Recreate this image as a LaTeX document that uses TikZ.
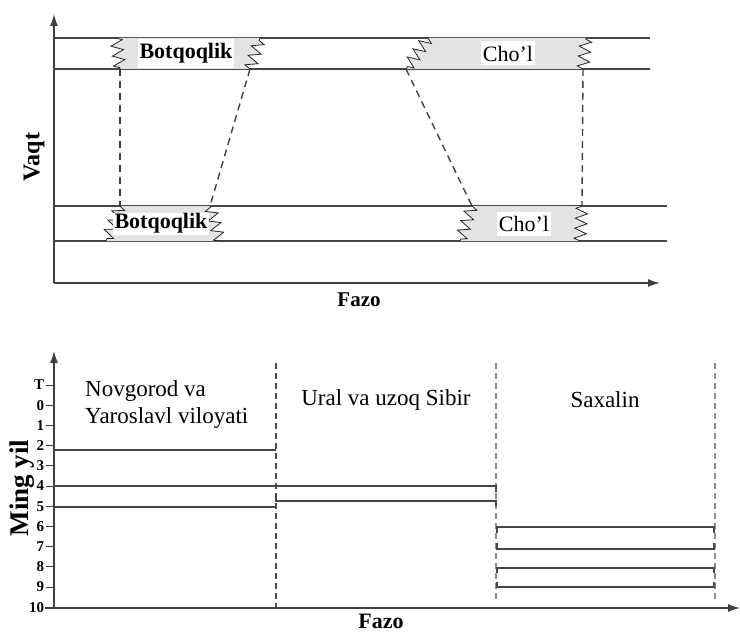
\documentclass[tikz,border=0pt]{standalone}
\usepackage{fontspec}
\setmainfont{Liberation Serif}
\usetikzlibrary{arrows.meta,decorations.pathmorphing}

\newcommand{\zigpatch}[7]{%
  \coordinate (#1tl) at (#4,#2);
  \coordinate (#1bl) at (#5,#3);
  \coordinate (#1tr) at (#6,#2);
  \coordinate (#1br) at (#7,#3);
  \fill[stipple] (#1tl) decorate[zig]{-- (#1bl)} -- (#1br) decorate[zig]{-- (#1tr)} -- cycle;
  \draw[zigline] (#1tl) decorate[zig]{-- (#1bl)};
  \draw[zigline] (#1br) decorate[zig]{-- (#1tr)};
}

\begin{document}
\begin{tikzpicture}[
    x=1pt, y=-1pt,
    axisline/.style={draw=black!75, line width=1.3pt},
    axisarrow/.style={axisline, -{Latex[length=12pt,width=8pt]}},
    band/.style={draw=black!72, line width=1.2pt},
    stipple/.style={fill=black!11},
    zig/.style={decoration={zigzag, segment length=10pt, amplitude=6pt}},
    zigline/.style={draw=black!85, line width=0.8pt},
    link/.style={draw=black!75, line width=1.4pt, dash pattern=on 7pt off 5pt},
    sep/.style={draw=black!70, line width=1.4pt, dash pattern=on 6pt off 4pt},
    tag/.style={fill=white, inner xsep=2pt, inner ysep=0pt, font=\fontsize{22}{24}\selectfont},
    region/.style={fill=white, inner sep=3pt, font=\fontsize{23}{27}\selectfont},
    tick/.style={font=\bfseries\fontsize{15}{15}\selectfont, inner sep=1.5pt},
    axislabel/.style={font=\bfseries\fontsize{22}{24}\selectfont},
  ]
  \useasboundingbox (0,0) rectangle (740,634);

  % upper panel: bands
  \draw[band] (54,38) -- (650,38);
  \draw[band] (54,69) -- (650,69);
  \draw[band] (54,206) -- (667,206);
  \draw[band] (54,241) -- (667,241);

  \zigpatch{ba}{38}{69}{116}{120}{260}{250}
  \zigpatch{bb}{206}{241}{120}{106}{210}{220}
  \zigpatch{ca}{38}{69}{428}{406}{586}{583}
  \zigpatch{cb}{206}{241}{472}{460}{582}{580}

  \node[tag, font=\bfseries\fontsize{22}{24}\selectfont, minimum height=29pt, minimum width=96pt] (botA) at (186,53.5) {Botqoqlik};
  \node[tag, font=\bfseries\fontsize{22}{24}\selectfont, minimum height=22pt] (botB) at (161,223.5) {Botqoqlik};
  \node[tag, minimum height=24pt] (cholA) at (508,53.5) {Cho'l};
  \node[tag, minimum height=24pt] (cholB) at (524,223.5) {Cho'l};

  \draw[link] (babl) -- (bbtl);
  \draw[link] (babr) -- (bbtr);
  \draw[link] (cabl) -- (cbtl);
  \draw[link] (cabr) -- (cbtr);

  % upper panel: axes
  \coordinate (o1) at (54,283);
  \draw[axisarrow] (o1) -- (54,14);
  \draw[axisarrow] (o1) -- (660,283);
  \node[axislabel, font=\bfseries\fontsize{24}{24}\selectfont, rotate=90] (vaqt) at (34,157) {Vaqt};
  \node[axislabel, font=\bfseries\fontsize{21}{24}\selectfont] (fazoA) at (359,300) {Fazo};

  % lower panel: axes and scale
  \coordinate (o2) at (54,608);
  \draw[axisarrow] (o2) -- (54,351);
  \draw[axisarrow] (45,608) -- (740,608);
  \foreach \lab [count=\i from 0] in {T,0,1,2,3,4,5,6,7,8,9,10}
    \draw[axisline, line width=0.8pt] (54,385+20.2*\i) -- (46,385+20.2*\i)
      node[left, tick] (t\i) {\lab};
  \node[axislabel, font=\bfseries\fontsize{27}{27}\selectfont, rotate=90] (ming) at (22,488) {Ming yil};
  \node[axislabel, font=\bfseries\fontsize{22}{24}\selectfont, anchor=base, inner sep=0pt] (fazoB) at (381,628) {Fazo};

  % lower panel: regions
  \draw[sep] (276,363) -- (276,608);
  \draw[sep, draw=black!45] (496,363) -- (496,600);
  \draw[sep, draw=black!45] (715,363) -- (715,600);

  \node[region, align=left, anchor=north west] (novg) at (82,377) {Novgorod va\\Yaroslavl viloyati};
  \node[region] (ural) at (386,400) {Ural va uzoq Sibir};
  \node[region] (saxa) at (605,400) {Saxalin};

  \draw[band] (54,450) -- (276,450);
  \draw[band] (54,486) -- (276,486);
  \draw[band] (54,507) -- (276,507);

  \draw[band] (276,486) -- (496,486) -- (496,492);
  \draw[band] (276,496) -- (276,501) -- (496,501) -- (496,506);

  \draw[band] (497,533) -- (497,527) -- (714,527) -- (714,533);
  \draw[band] (497,543) -- (497,549) -- (714,549) -- (714,543);
  \draw[band] (497,573) -- (497,568) -- (714,568) -- (714,573);
  \draw[band] (497,582) -- (497,587) -- (714,587) -- (714,582);
\end{tikzpicture}
\end{document}
